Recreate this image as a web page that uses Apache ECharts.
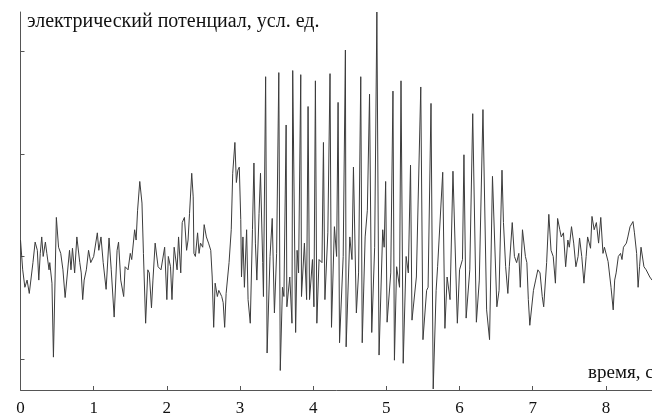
<!DOCTYPE html>
<html lang="ru">
<head>
<meta charset="UTF-8">
<title>ЭЭГ</title>
<script src="https://cdn.jsdelivr.net/npm/echarts@6/dist/echarts.min.js"></script>
<style>
  html, body { margin: 0; padding: 0; background: #fff; }
  #main { width: 652px; height: 417px; }
</style>
</head>
<body>
<div id="main"></div>
<script type="text/javascript">
// время, с
var times = [
  0.00, 0.03, 0.06, 0.09, 0.12, 0.17, 0.20, 0.23, 0.25, 0.27, 0.29, 0.31, 0.34, 0.36, 0.39, 0.40, 0.43, 0.45, 0.49, 0.52,
  0.55, 0.58, 0.61, 0.67, 0.69, 0.71, 0.74, 0.77, 0.81, 0.83, 0.85, 0.87, 0.90, 0.93, 0.96, 1.00, 1.05, 1.07, 1.10, 1.13,
  1.17, 1.21, 1.24, 1.28, 1.32, 1.34, 1.37, 1.41, 1.43, 1.47, 1.50, 1.52, 1.56, 1.58, 1.60, 1.63, 1.66, 1.68, 1.71, 1.74,
  1.76, 1.79, 1.81, 1.84, 1.88, 1.92, 1.97, 2.00, 2.02, 2.05, 2.07, 2.10, 2.14, 2.16, 2.19, 2.21, 2.24, 2.27, 2.29, 2.31,
  2.34, 2.36, 2.37, 2.39, 2.42, 2.44, 2.46, 2.49, 2.51, 2.54, 2.57, 2.60, 2.62, 2.64, 2.66, 2.69, 2.71, 2.75, 2.77, 2.79,
  2.81, 2.85, 2.88, 2.90, 2.93, 2.95, 2.97, 2.99, 3.01, 3.02, 3.04, 3.06, 3.09, 3.11, 3.14, 3.17, 3.19, 3.21, 3.23, 3.26,
  3.28, 3.31, 3.32, 3.35, 3.37, 3.41, 3.44, 3.47, 3.50, 3.53, 3.55, 3.58, 3.60, 3.63, 3.64, 3.68, 3.71, 3.72, 3.76, 3.78,
  3.80, 3.83, 3.84, 3.88, 3.91, 3.93, 3.95, 3.99, 4.01, 4.03, 4.05, 4.08, 4.12, 4.14, 4.16, 4.20, 4.23, 4.25, 4.29, 4.32,
  4.34, 4.36, 4.41, 4.44, 4.45, 4.50, 4.53, 4.55, 4.59, 4.62, 4.65, 4.67, 4.71, 4.74, 4.77, 4.80, 4.84, 4.87, 4.90, 4.95,
  4.97, 4.99, 5.01, 5.06, 5.09, 5.11, 5.14, 5.18, 5.20, 5.23, 5.27, 5.30, 5.33, 5.35, 5.41, 5.47, 5.50, 5.55, 5.57, 5.61,
  5.64, 5.68, 5.70, 5.77, 5.80, 5.83, 5.87, 5.91, 5.97, 6.00, 6.04, 6.06, 6.09, 6.14, 6.18, 6.23, 6.27, 6.32, 6.37, 6.41,
  6.45, 6.51, 6.54, 6.58, 6.60, 6.63, 6.66, 6.68, 6.72, 6.75, 6.78, 6.81, 6.83, 6.86, 6.90, 6.92, 6.94, 6.96, 7.01, 7.04,
  7.07, 7.10, 7.13, 7.15, 7.19, 7.22, 7.25, 7.28, 7.31, 7.34, 7.37, 7.39, 7.42, 7.45, 7.48, 7.50, 7.53, 7.56, 7.59, 7.62,
  7.64, 7.67, 7.70, 7.73, 7.75, 7.79, 7.81, 7.84, 7.87, 7.90, 7.93, 7.96, 7.98, 8.03, 8.05, 8.07, 8.10, 8.12, 8.14, 8.17,
  8.20, 8.22, 8.24, 8.28, 8.30, 8.33, 8.37, 8.39, 8.42, 8.44, 8.46, 8.48, 8.52, 8.55, 8.60, 8.63
];
// электрический потенциал, усл. ед.
var potential = [
  0.16, -0.13, -0.30, -0.23, -0.36, -0.06, 0.14, 0.06, -0.23, 0.03, 0.19, 0.00, 0.14, 0.03, -0.13, -0.06, -0.26, -0.98, 0.38, 0.09,
  0.03, -0.13, -0.40, 0.06, -0.13, 0.08, -0.16, 0.19, -0.06, -0.16, -0.42, -0.23, -0.13, 0.06, -0.06, 0.00, 0.23, 0.06, 0.19, -0.06,
  -0.32, 0.18, -0.13, -0.59, 0.06, 0.14, -0.23, -0.39, -0.10, -0.13, 0.03, -0.03, 0.26, 0.16, 0.45, 0.73, 0.52, 0.03, -0.65, -0.13,
  -0.16, -0.50, -0.23, 0.13, -0.10, -0.13, 0.09, -0.42, 0.00, -0.10, -0.42, 0.09, -0.13, 0.19, -0.16, 0.33, 0.38, 0.06, 0.16, 0.42,
  0.81, 0.58, 0.03, 0.00, 0.23, 0.03, 0.13, 0.09, 0.31, 0.19, 0.13, 0.06, -0.20, -0.69, -0.26, -0.39, -0.33, -0.39, -0.45, -0.69,
  -0.36, -0.06, 0.26, 0.81, 1.11, 0.72, 0.84, 0.87, 0.36, -0.20, 0.19, -0.30, 0.26, -0.42, -0.65, 0.26, 0.91, 0.13, -0.23, 0.42,
  0.81, -0.06, -0.39, 1.75, -0.94, 0.00, 0.37, -0.55, 0.03, 1.79, -1.11, -0.30, -0.39, 1.28, -0.49, -0.20, -0.65, 1.81, -0.74, 0.06,
  -0.16, 1.77, -0.39, 0.13, -0.42, 1.46, -0.42, -0.03, -0.49, 1.71, -0.65, -0.03, -0.06, 1.11, -0.42, 0.23, 1.78, -0.69, 0.29, 0.00,
  1.50, -0.84, 0.00, 2.01, -0.88, 0.19, -0.03, 0.87, -0.55, -0.16, 1.75, -0.84, 0.19, 0.45, 1.58, -0.74, 0.09, 2.38, -0.96, 0.26,
  0.09, 0.73, -0.64, -0.16, 1.61, -1.01, -0.10, -0.30, 1.71, -1.04, 0.00, -0.16, 0.89, -0.62, -0.20, 1.65, -0.81, -0.33, -0.30, 1.49,
  -1.29, -0.33, -0.10, 0.82, -0.70, -0.20, -0.42, 0.83, -0.65, -0.13, -0.03, 0.99, -0.60, -0.13, 1.39, -0.64, -0.23, 1.43, -0.52, -0.81,
  0.78, -0.49, -0.33, 0.84, 0.33, -0.10, -0.36, -0.10, 0.33, 0.00, -0.06, 0.03, -0.30, 0.26, 0.00, -0.06, -0.42, -0.67, -0.33, -0.23,
  -0.13, -0.16, -0.39, -0.49, -0.06, 0.41, 0.06, 0.00, -0.26, 0.37, 0.26, 0.19, 0.23, -0.10, 0.16, 0.09, 0.29, 0.13, -0.10, 0.00,
  0.18, 0.00, -0.26, 0.00, 0.19, 0.08, 0.39, 0.26, 0.33, 0.13, 0.38, 0.03, 0.09, -0.05, -0.06, -0.30, -0.52, -0.23, -0.16, 0.00,
  0.03, -0.03, 0.09, 0.13, 0.19, 0.29, 0.34, 0.23, 0.03, -0.30, -0.10, 0.09, -0.10, -0.13, -0.20, -0.23
];
var xTicks = [0, 1, 2, 3, 4, 5, 6, 7, 8];
var yTicks = [-1, 0, 1, 2];

var seriesData = [];
for (var i = 0; i < times.length; i++) {
    seriesData.push([times[i], potential[i]]);
}

var myChart = echarts.init(document.getElementById('main'), null, { renderer: 'canvas' });
var serif = '"Liberation Serif", "DejaVu Serif", serif';

myChart.setOption({
    animation: false,
    backgroundColor: '#ffffff',
    grid: { left: 20.5, right: 0, top: 12, bottom: 27 },
    xAxis: {
        type: 'value',
        min: 0,
        max: 8.63,
        axisLine: { show: true, onZero: false, lineStyle: { color: '#555', width: 1 } },
        axisTick: { show: true, inside: true, length: 4, customValues: xTicks, lineStyle: { color: '#555' } },
        axisLabel: { customValues: xTicks, color: '#111', fontFamily: serif, fontSize: 17, margin: 10 },
        splitLine: { show: false }
    },
    yAxis: {
        type: 'value',
        min: -1.3,
        max: 2.38,
        axisLine: { show: true, onZero: false, lineStyle: { color: '#555', width: 1 } },
        axisTick: { show: true, inside: true, length: 4, customValues: yTicks, lineStyle: { color: '#555' } },
        axisLabel: { show: false },
        splitLine: { show: false }
    },
    graphic: [
        {
            type: 'text', left: 27, top: 12,
            style: { text: 'электрический потенциал, усл. ед.', fill: '#111', font: '20px ' + serif }
        },
        {
            type: 'text', left: 588, top: 364,
            style: { text: 'время, с', fill: '#111', font: '19px ' + serif }
        }
    ],
    series: [{
        type: 'line',
        data: seriesData,
        showSymbol: false,
        smooth: false,
        lineStyle: { color: '#3c3c3c', width: 1 }
    }]
});
</script>
</body>
</html>
